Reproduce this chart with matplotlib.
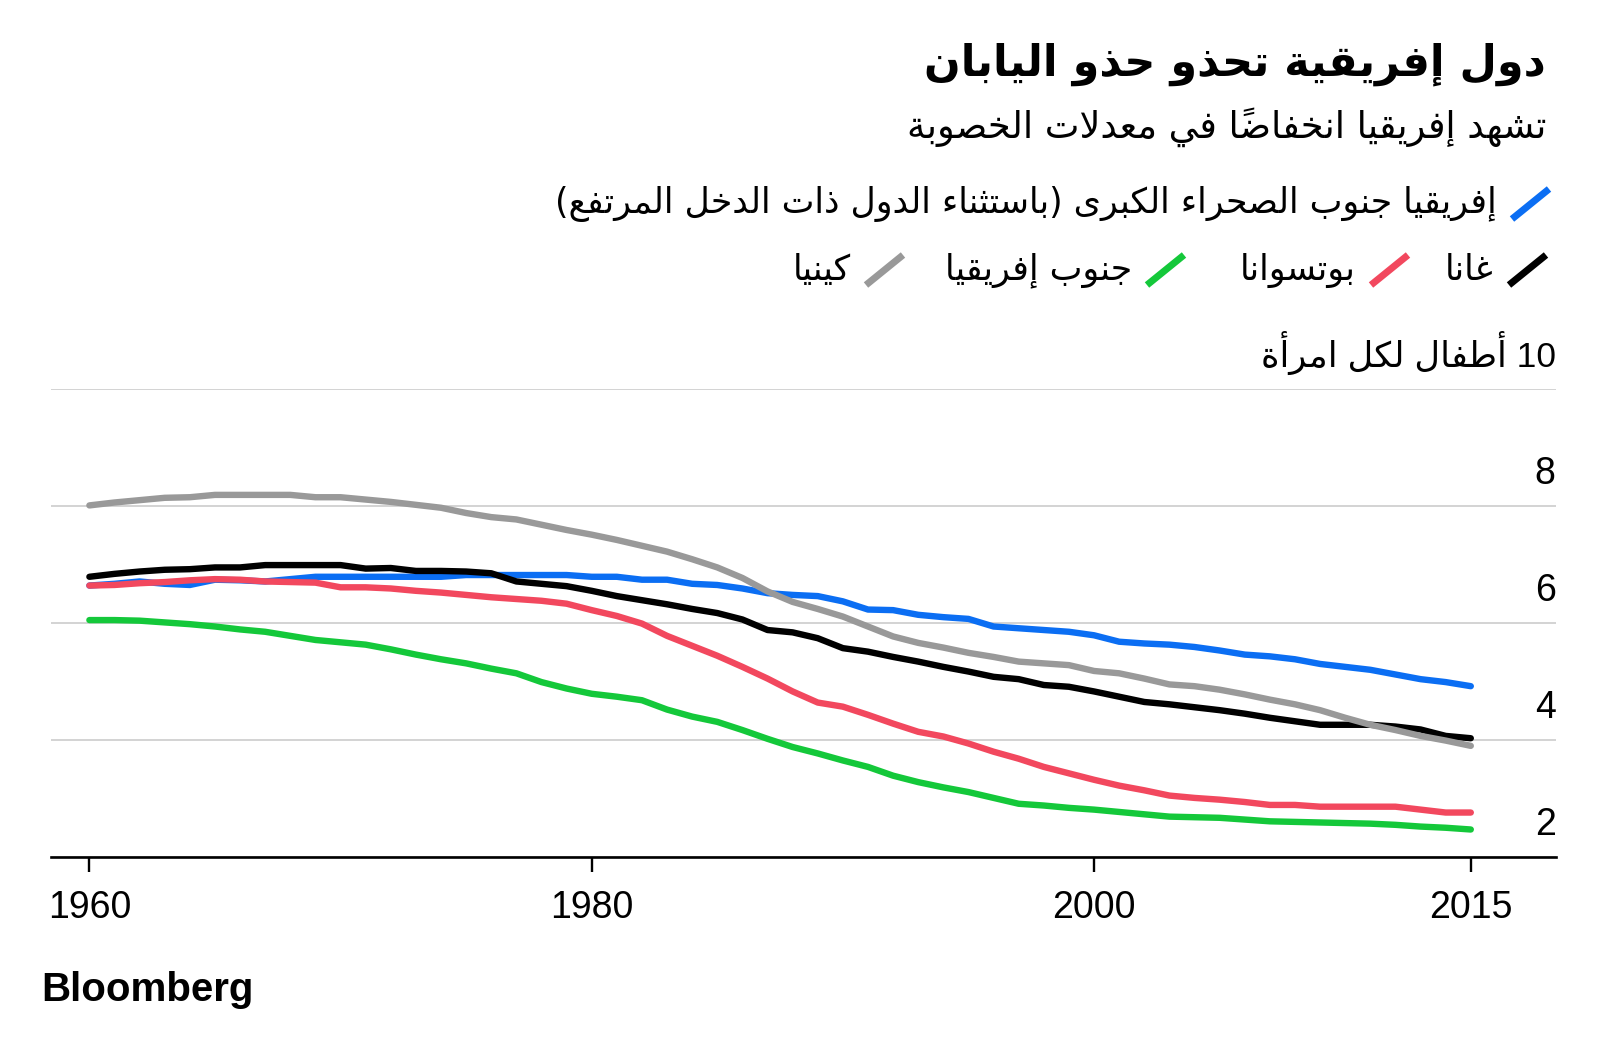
import re
import matplotlib
matplotlib.use('Agg')
import matplotlib.pyplot as plt
import matplotlib.transforms as mtransforms
from matplotlib.lines import Line2D

plt.rcParams['font.family'] = ['Liberation Sans', 'DejaVu Sans']

# total fertility rate, children per woman, 1960-2015
years = list(range(1960, 2016))
ssa = [6.64, 6.67, 6.71, 6.67, 6.65, 6.74, 6.73, 6.71, 6.75, 6.79,
       6.79, 6.79, 6.79, 6.79, 6.79, 6.82, 6.82, 6.82, 6.82, 6.82,
       6.79, 6.79, 6.74, 6.74, 6.67, 6.65, 6.59, 6.51, 6.48, 6.46,
       6.37, 6.23, 6.22, 6.14, 6.10, 6.07, 5.94, 5.91, 5.88, 5.85,
       5.79, 5.68, 5.65, 5.63, 5.59, 5.53, 5.46, 5.43, 5.38, 5.30,
       5.25, 5.20, 5.12, 5.04, 4.99, 4.92]
ghana = [6.79, 6.84, 6.88, 6.91, 6.92, 6.95, 6.95, 6.99, 6.99, 6.99,
         6.99, 6.93, 6.94, 6.89, 6.89, 6.88, 6.85, 6.71, 6.67, 6.63,
         6.55, 6.46, 6.39, 6.32, 6.24, 6.17, 6.06, 5.88, 5.84, 5.74,
         5.57, 5.51, 5.42, 5.34, 5.25, 5.17, 5.08, 5.04, 4.94, 4.91,
         4.83, 4.74, 4.65, 4.61, 4.56, 4.51, 4.45, 4.38, 4.32, 4.26,
         4.26, 4.26, 4.23, 4.18, 4.07, 4.03]
botswana = [6.64, 6.65, 6.68, 6.70, 6.73, 6.75, 6.74, 6.71, 6.70, 6.69,
            6.61, 6.61, 6.59, 6.55, 6.52, 6.48, 6.44, 6.41, 6.38, 6.33,
            6.22, 6.12, 5.99, 5.78, 5.61, 5.44, 5.25, 5.05, 4.83, 4.64,
            4.57, 4.43, 4.28, 4.14, 4.06, 3.94, 3.80, 3.68, 3.54, 3.43,
            3.32, 3.22, 3.14, 3.05, 3.01, 2.98, 2.94, 2.89, 2.89, 2.86,
            2.86, 2.86, 2.86, 2.81, 2.76, 2.76]
south_africa = [6.05, 6.05, 6.04, 6.01, 5.98, 5.94, 5.89, 5.85, 5.78, 5.71,
                5.67, 5.63, 5.55, 5.46, 5.38, 5.31, 5.22, 5.14, 4.99, 4.88,
                4.79, 4.74, 4.68, 4.52, 4.40, 4.31, 4.17, 4.02, 3.88, 3.77,
                3.65, 3.54, 3.39, 3.28, 3.19, 3.11, 3.01, 2.91, 2.88, 2.84,
                2.81, 2.77, 2.73, 2.69, 2.68, 2.67, 2.64, 2.61, 2.60, 2.59,
                2.58, 2.57, 2.55, 2.52, 2.50, 2.47]
kenya = [8.01, 8.06, 8.10, 8.14, 8.15, 8.19, 8.19, 8.19, 8.19, 8.15,
         8.15, 8.11, 8.07, 8.02, 7.97, 7.88, 7.81, 7.77, 7.68, 7.59,
         7.51, 7.42, 7.32, 7.22, 7.09, 6.95, 6.77, 6.54, 6.36, 6.24,
         6.11, 5.94, 5.77, 5.66, 5.58, 5.49, 5.42, 5.34, 5.31, 5.28,
         5.18, 5.14, 5.05, 4.95, 4.92, 4.86, 4.78, 4.69, 4.61, 4.51,
         4.38, 4.26, 4.17, 4.07, 3.99, 3.90]

title = 'دول إفريقية تحذو حذو اليابان'
subtitle = 'تشهد إفريقيا انخفاضًا في معدلات الخصوبة'
ssa_name = 'إفريقيا جنوب الصحراء الكبرى (باستثناء الدول ذات الدخل المرتفع)'
country_names = ['غانا', 'بوتسوانا', 'جنوب إفريقيا', 'كينيا']
unit_label = '10 أطفال لكل امرأة'
y_ticks = [2, 4, 6, 8]
x_ticks = [1960, 1980, 2000, 2015]

BLUE, BLACK, RED, GREEN, GRAY = '#0b6ef3', '#000000', '#f2485e', '#14c83a', '#999999'


# --- minimal arabic shaping (no reshaper/bidi libs available) ---
# char -> (first presentation form, number of forms: 1 none, 2 right-joining, 4 dual)
FORMS = {
    'ء': (0xFE80, 1), 'آ': (0xFE81, 2), 'أ': (0xFE83, 2), 'ؤ': (0xFE85, 2),
    'إ': (0xFE87, 2), 'ئ': (0xFE89, 4), 'ا': (0xFE8D, 2), 'ب': (0xFE8F, 4),
    'ة': (0xFE93, 2), 'ت': (0xFE95, 4), 'ث': (0xFE99, 4), 'ج': (0xFE9D, 4),
    'ح': (0xFEA1, 4), 'خ': (0xFEA5, 4), 'د': (0xFEA9, 2), 'ذ': (0xFEAB, 2),
    'ر': (0xFEAD, 2), 'ز': (0xFEAF, 2), 'س': (0xFEB1, 4), 'ش': (0xFEB5, 4),
    'ص': (0xFEB9, 4), 'ض': (0xFEBD, 4), 'ط': (0xFEC1, 4), 'ظ': (0xFEC5, 4),
    'ع': (0xFEC9, 4), 'غ': (0xFECD, 4), 'ف': (0xFED1, 4), 'ق': (0xFED5, 4),
    'ك': (0xFED9, 4), 'ل': (0xFEDD, 4), 'م': (0xFEE1, 4), 'ن': (0xFEE5, 4),
    'ه': (0xFEE9, 4), 'و': (0xFEED, 2), 'ى': (0xFEEF, 2), 'ي': (0xFEF1, 4),
    '\uFEF5': (0xFEF5, 2), '\uFEF7': (0xFEF7, 2), '\uFEF9': (0xFEF9, 2), '\uFEFB': (0xFEFB, 2),
}
LAM_ALEF = [('لآ', '\uFEF5'), ('لأ', '\uFEF7'), ('لإ', '\uFEF9'), ('لا', '\uFEFB')]
MARKS = set(chr(c) for c in range(0x064B, 0x0653))
MIRROR = {'(': ')', ')': '('}


def shape(text):
    for a, b in LAM_ALEF:
        text = text.replace(a, b)
    chars = list(text)
    out = []
    for i, c in enumerate(chars):
        if c not in FORMS:
            out.append(c)
            continue
        j = i - 1
        while j >= 0 and chars[j] in MARKS:
            j -= 1
        k = i + 1
        while k < len(chars) and chars[k] in MARKS:
            k += 1
        base, n = FORMS[c]
        prev = j >= 0 and chars[j] in FORMS and FORMS[chars[j]][1] == 4
        nxt = n == 4 and k < len(chars) and chars[k] in FORMS and FORMS[chars[k]][1] > 1
        if n == 1:
            code = base
        elif n == 2:
            code = base + (1 if prev else 0)
        else:
            code = base + (3 if prev and nxt else 1 if prev else 2 if nxt else 0)
        out.append(chr(code))
    return ''.join(out)


def rtl(text):
    # visual order: reverse the arabic runs, keep digit runs as they are.
    # marks end up just before their base, which is where matplotlib draws them over it
    shaped = shape(text)
    runs = re.findall(r'[0-9A-Za-z]+|[^0-9A-Za-z]+', shaped)
    vis = []
    for r in reversed(runs):
        if re.match(r'[0-9A-Za-z]', r):
            vis.append(r)
        else:
            vis.append(''.join(MIRROR.get(ch, ch) for ch in reversed(r)))
    return ''.join(vis)


W, H = 1600, 1050
fig = plt.figure(figsize=(16, 10.5), dpi=100)
ax = fig.add_axes([50.7 / W, 1 - 857 / H, 1505 / W, 468 / H])

for vals, col in [(ssa, BLUE), (ghana, BLACK), (kenya, GRAY), (south_africa, GREEN), (botswana, RED)]:
    ax.plot(years, vals, color=col, lw=4.6, solid_capstyle='round',
            solid_joinstyle='round', clip_on=False, zorder=3)

ax.set_xlim(1958.46, 2018.38)
ax.set_ylim(2, 10)
ax.set_yticks(y_ticks + [10])
ax.grid(axis='y', color='#c8c8c8', lw=1.1, zorder=1)
ax.tick_params(axis='y', length=0, labelleft=False)
ax.set_xticks(x_ticks)
ax.set_xticklabels([str(x) for x in x_ticks])
ax.tick_params(axis='x', length=11, width=1.7, pad=13, labelsize=27, color='black')
for s in ['top', 'left', 'right']:
    ax.spines[s].set_visible(False)
ax.spines['bottom'].set_linewidth(1.9)
ax.spines['bottom'].set_zorder(4)

# y labels sit above their gridline at the right edge
lab_tr = mtransforms.offset_copy(ax.get_yaxis_transform(), fig=fig, y=16, units='points')
for v in y_ticks:
    ax.text(1.0, v, str(v), transform=lab_tr, ha='right', va='baseline', fontsize=27)
ax.text(1.0, 10, rtl(unit_label), transform=lab_tr, ha='right', va='baseline', fontsize=25.5)

# titles
fig.text(1546 / W, 1 - 64 / H, rtl(title), ha='right', va='center', fontsize=31,
         fontweight='bold', family='DejaVu Sans')
fig.text(1546 / W, 1 - 127 / H, rtl(subtitle), ha='right', va='center', fontsize=26.5,
         family='DejaVu Sans')


# legend: diagonal strokes + labels
def legend_item(x_right, y_center, label, col):
    x0, x1 = x_right - 37, x_right
    fig.add_artist(Line2D([x0 / W, x1 / W], [1 - (y_center + 15) / H, 1 - (y_center - 15) / H],
                          transform=fig.transFigure, color=col, lw=5, solid_capstyle='butt'))
    fig.text((x0 - 15) / W, 1 - y_center / H, rtl(label), ha='right', va='center',
             fontsize=25, family='DejaVu Sans')


legend_item(1549, 204, ssa_name, BLUE)
for xr, name, col in zip([1546, 1408, 1184, 903], country_names, [BLACK, RED, GREEN, GRAY]):
    legend_item(xr, 270, name, col)

fig.text(41 / W, 1 - 1001 / H, 'Bloomberg', ha='left', va='baseline', fontsize=29,
         fontweight='bold', family='Liberation Sans')

fig.savefig('out.png', dpi=100, facecolor='white')
